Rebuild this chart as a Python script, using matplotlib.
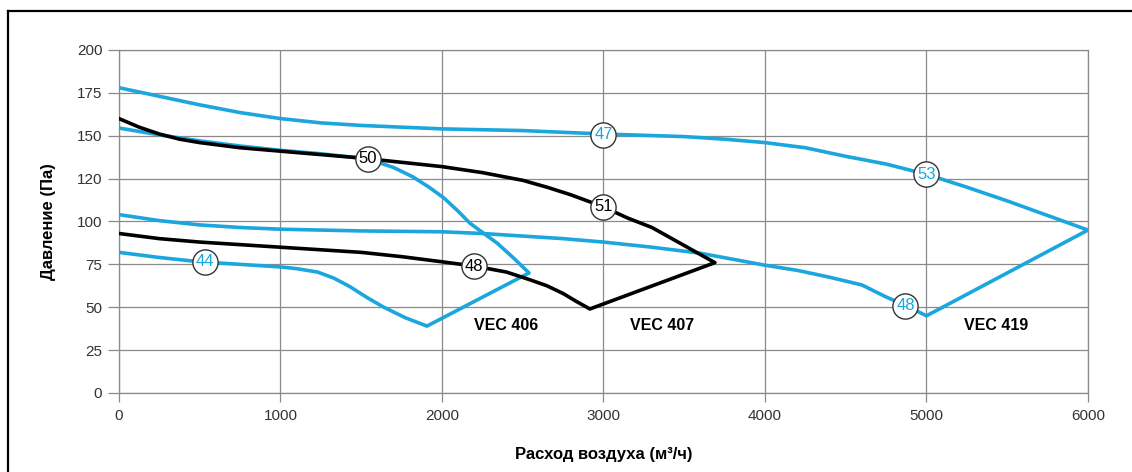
import matplotlib
matplotlib.use('Agg')
import matplotlib.pyplot as plt
from matplotlib.lines import Line2D

plt.rcParams['font.family'] = ['Liberation Sans', 'DejaVu Sans']

BLUE = '#1ba6de'

# VEC 406 envelope: upper curve -> right vertex -> bottom vertex -> lower curve back to 0
vec406_x = [0, 250, 500, 750, 1000, 1250, 1540, 1700, 1820, 1920, 2012, 2100, 2173,
            2260, 2340, 2440, 2539,
            1907, 1770, 1630, 1530, 1430, 1330, 1230, 1100, 1000, 750, 500, 250, 0]
vec406_y = [154.5, 150.5, 147, 144, 141.5, 139.5, 136.5, 131.5, 126, 120, 113.7, 106, 99,
            93, 87.5, 79, 70,
            39, 44, 50.5, 56, 62, 67, 70.5, 72.5, 73.5, 75, 76.5, 79, 82]

# VEC 407 envelope
vec407_x = [0, 125, 250, 375, 500, 750, 1000, 1250, 1500, 1750, 2000, 2250, 2500,
            2650, 2800, 2900, 3000, 3150, 3300, 3500, 3690,
            2916, 2830, 2750, 2650, 2545, 2400, 2200, 2000, 1750, 1500, 1250, 1000,
            750, 500, 250, 0]
vec407_y = [160, 155, 151, 148, 146, 143, 141, 139, 137, 134.5, 132, 128.5, 124,
            120, 115.5, 112, 108.5, 102, 96.5, 86, 76,
            49, 53.5, 58, 62.5, 66, 70.5, 74, 76.5, 79.5, 82, 83.5, 85,
            86.5, 88, 90, 93]

# VEC 419 envelope
vec419_x = [0, 250, 500, 750, 1000, 1250, 1500, 1750, 2000, 2500, 3000, 3500, 3750,
            4000, 4250, 4500, 4750, 5000, 5250, 5500, 5750, 6000,
            5000, 4870, 4750, 4600, 4400, 4200, 4000, 3800, 3600, 3300, 3000, 2750,
            2500, 2250, 2000, 1500, 1000, 750, 500, 250, 0]
vec419_y = [178, 173, 168, 163.5, 160, 157.5, 156, 155, 154, 153, 151, 149.5, 148,
            146, 143, 138, 133.5, 127.5, 120, 112, 103.5, 95,
            45, 51, 56, 63, 67.5, 71.5, 74.5, 78, 81.5, 85, 88, 90,
            91.5, 93, 94, 94.5, 95.5, 96.5, 98, 100.5, 104]

# circled markers on curves
marks_x = [1540, 3000, 2200, 530, 3000, 5000, 4870]
marks_y = [136.5, 108.5, 74, 76.5, 150.5, 127.5, 51]
marks_txt = ['50', '51', '48', '44', '47', '53', '48']
marks_col = ['black', 'black', 'black', BLUE, BLUE, BLUE, BLUE]

models = ['VEC 406', 'VEC 407', 'VEC 419']
models_x = [2400, 3360, 5430]
models_y = [39.5, 39.5, 39.5]

yticks = [0, 25, 50, 75, 100, 125, 150, 175, 200]
ytick_labels = ['0', '25', '50', '75', '100', '120', '150', '175', '200']
xticks = [0, 1000, 2000, 3000, 4000, 5000, 6000]

fig = plt.figure(figsize=(11.32, 4.72), dpi=100)
ax = fig.add_axes([0.1051, 0.1674, 0.856, 0.7267])

ax.plot(vec406_x, vec406_y, color=BLUE, lw=2.6, solid_joinstyle='round', zorder=3)
ax.plot(vec419_x, vec419_y, color=BLUE, lw=2.6, solid_joinstyle='round', zorder=3)
ax.plot(vec407_x, vec407_y, color='black', lw=2.6, solid_joinstyle='round', zorder=3)

ax.scatter(marks_x, marks_y, s=330, facecolor='white', edgecolor='#333333',
           linewidth=1.0, zorder=4)
for x, y, t, c in zip(marks_x, marks_y, marks_txt, marks_col):
    ax.text(x, y, t, color=c, fontsize=12, ha='center', va='center', zorder=5)

for x, y, t in zip(models_x, models_y, models):
    ax.text(x, y, t, fontsize=11.5, fontweight='bold', ha='center', va='center')

ax.set_xlim(0, 6000)
ax.set_ylim(0, 200)
ax.set_xticks(xticks)
ax.set_yticks(yticks)
ax.set_yticklabels(ytick_labels)
ax.grid(True, color='#8a8a8a', lw=0.9)
ax.set_axisbelow(True)
for s in ax.spines.values():
    s.set_color('#8a8a8a')
    s.set_linewidth(0.9)
ax.tick_params(axis='y', length=8, width=0.9, color='#8a8a8a', pad=4,
               labelsize=11, labelcolor='#333333')
ax.tick_params(axis='x', length=6.5, width=0.9, color='#8a8a8a', pad=5,
               labelsize=11, labelcolor='#333333')

ax.set_xlabel('Расход воздуха (м³/ч)', fontsize=12, fontweight='bold', labelpad=17)
ax.set_ylabel('Давление (Па)', fontsize=12, fontweight='bold', labelpad=15)

# frame around the picture (top and left edges visible)
fig.add_artist(Line2D([8 / 1132, 1], [1 - 11 / 472, 1 - 11 / 472], color='black', lw=1.6))
fig.add_artist(Line2D([8 / 1132, 8 / 1132], [0, 1 - 11 / 472], color='black', lw=1.6))

fig.savefig('out.png', dpi=100)
